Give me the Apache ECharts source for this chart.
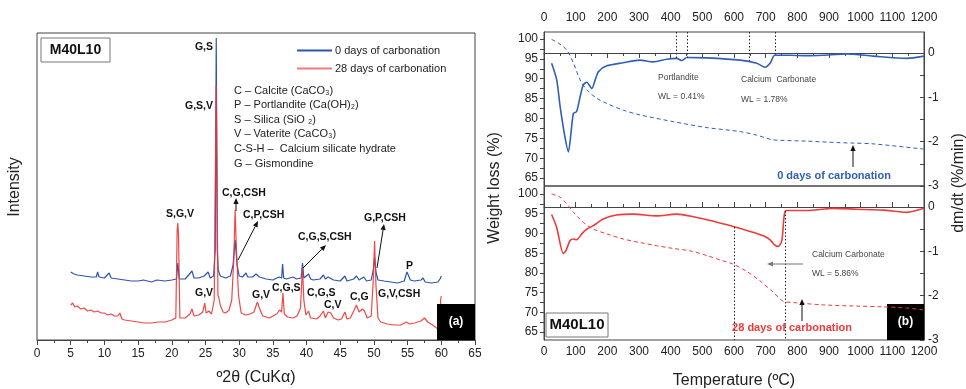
<!DOCTYPE html>
<html><head><meta charset="utf-8">
<script src="https://cdn.jsdelivr.net/npm/echarts@6/dist/echarts.min.js"></script>
<style>html,body{margin:0;padding:0;background:#fff}#c{width:966px;height:389px}</style>
</head><body><div id="c"></div>
<script>
// ---------- DATA ----------
// XRD (2θ, intensity a.u.)
const xrd0days = [[5.0,680],[5.5,660],[6.0,650],[7.0,640],[8.0,630],[8.8,630],[9.0,680],[9.2,630],[10.0,620],[10.7,670],[11.0,620],[12.0,610],[13.0,600],[14.0,590],[15.0,590],[15.8,600],[16.0,580],[17.0,580],[17.8,600],[18.0,580],[19.0,590],[20.0,600],[20.7,610],[20.9,770],[21.1,610],[22.0,610],[23.0,690],[23.3,620],[24.0,620],[24.8,640],[25.0,620],[25.4,680],[25.7,620],[26.2,640],[26.45,900],[26.6,3020],[26.75,900],[26.9,700],[27.2,640],[28.0,620],[28.7,640],[29.1,750],[29.4,1000],[29.7,750],[30.0,640],[30.5,630],[31.0,670],[31.3,630],[32.0,630],[32.5,660],[33.0,630],[34.0,610],[35.0,600],[35.9,630],[36.3,620],[36.45,760],[36.6,620],[37.0,610],[38.0,630],[38.5,610],[39.2,620],[39.4,770],[39.6,620],[40.3,660],[40.6,610],[41.0,600],[42.0,610],[42.5,650],[42.8,610],[43.2,630],[44.0,600],[45.0,590],[45.7,640],[46.0,590],[47.0,610],[47.4,640],[47.8,600],[48.5,630],[48.9,590],[49.6,600],[49.9,700],[50.1,820],[50.3,680],[50.6,600],[51.5,590],[52.5,580],[53.5,570],[54.5,590],[54.9,680],[55.1,650],[55.4,600],[56.0,590],[57.0,600],[57.3,620],[57.6,580],[58.5,570],[59.5,580],[59.8,610],[60.0,640]];
const xrd28days = [[5.0,350],[5.3,370],[5.6,330],[6.0,340],[6.5,310],[7.0,320],[7.5,290],[8.0,300],[8.5,280],[9.0,290],[9.5,270],[10.0,270],[10.5,250],[11.0,260],[11.5,240],[12.0,240],[12.3,270],[12.6,210],[13.0,200],[14.0,190],[15.0,180],[16.0,170],[17.0,170],[18.0,180],[19.0,180],[20.0,200],[20.6,220],[20.8,1100],[20.9,1170],[21.0,1050],[21.2,220],[22.0,220],[22.7,260],[23.0,310],[23.3,240],[24.0,250],[24.6,280],[24.9,370],[25.1,270],[25.5,290],[25.9,260],[26.3,400],[26.5,1900],[26.6,2550],[26.7,1800],[26.85,450],[27.0,420],[27.2,350],[27.6,280],[28.0,270],[28.5,300],[28.9,400],[29.2,800],[29.4,1300],[29.6,900],[29.9,450],[30.3,270],[31.0,250],[31.6,260],[32.2,280],[32.7,380],[33.0,320],[33.5,240],[34.0,230],[34.5,220],[35.0,240],[35.6,260],[36.0,300],[36.3,280],[36.5,470],[36.7,260],[37.2,230],[38.0,220],[38.6,240],[39.1,320],[39.4,720],[39.6,400],[39.9,250],[40.3,290],[40.6,220],[41.5,210],[42.0,240],[42.5,290],[42.8,220],[43.2,280],[43.6,270],[44.0,220],[44.7,200],[45.2,210],[45.7,280],[46.0,210],[46.5,220],[47.0,290],[47.4,350],[47.8,280],[48.3,310],[48.6,290],[49.0,220],[49.6,240],[49.9,600],[50.1,990],[50.3,550],[50.6,220],[51.0,180],[52.0,160],[53.0,150],[54.0,150],[54.8,180],[55.3,160],[56.0,170],[57.0,190],[57.5,220],[58.0,180],[58.7,150],[59.3,120],[59.8,100],[59.9,400],[60.0,440]];
// TGA weight (%) and DTG (%/min) vs temperature (°C)
const tgaWeight0 = [[24,99.9],[45,99.0],[72,97.2],[93,93.9],[114,89.7],[135,87.2],[166,85.1],[198,83.8],[250,82.1],[303,80.9],[408,79.2],[514,77.7],[619,76.7],[672,75.8],[700,75.1],[724,74.6],[829,74.3],[935,73.9],[977,73.8],[1040,73.6],[1187,72.4],[1200,72.3]];
const tgaDtg0 = [[24,-0.23],[40,-0.6],[51,-1.21],[65,-1.85],[77,-2.23],[86,-1.75],[93,-1.36],[103,-1.32],[114,-0.99],[124,-0.72],[135,-0.66],[151,-0.80],[162,-0.6],[172,-0.42],[198,-0.29],[250,-0.22],[303,-0.16],[345,-0.20],[387,-0.14],[419,-0.12],[435,-0.17],[451,-0.10],[514,-0.11],[619,-0.16],[672,-0.23],[698,-0.32],[714,-0.23],[729,-0.05],[777,-0.05],[829,-0.06],[880,-0.05],[956,-0.02],[1040,-0.07],[1145,-0.12],[1200,-0.07]];
const tgaWeight28 = [[24,100],[51,99.2],[72,97.5],[93,95.4],[124,92.8],[156,91.1],[198,89.9],[250,88.6],[303,87.7],[356,86.9],[408,86.2],[461,85.6],[514,84.4],[556,83.3],[598,82.2],[640,80.4],[682,78.0],[724,75.1],[756,72.8],[787,72.5],[882,71.9],[987,71.6],[1071,71.4],[1145,71.1],[1200,70.6]];
const tgaDtg28 = [[24,-0.17],[40,-0.46],[61,-1.05],[69,-0.99],[82,-0.76],[93,-0.72],[103,-0.74],[119,-0.61],[135,-0.50],[156,-0.42],[187,-0.27],[229,-0.18],[282,-0.16],[356,-0.20],[419,-0.16],[472,-0.22],[535,-0.32],[598,-0.44],[651,-0.55],[693,-0.65],[714,-0.74],[729,-0.86],[740,-0.89],[751,-0.76],[758,-0.23],[764,-0.08],[829,-0.08],[914,-0.03],[987,-0.05],[1071,-0.07],[1145,-0.12],[1200,-0.03]];
// dotted guide lines: [temperature, dtg value where the line meets the curve]
const guides0 = [[419,-0.12],[451,-0.10],[648,-0.18],[729,-0.05]];
const guides28 = [[600,-0.45],[761,-0.09]];
// tick labels
const weightTicks = [65,70,75,80,85,90,95,100];
const weightMinorTicks = [65,67.5,70,72.5,75,77.5,80,82.5,85,87.5,90,92.5,95,97.5,100];
const dtgTicks = [-3,-2,-1,0];
const dtgMinorTicks = [-3,-2.5,-2,-1.5,-1,-0.5,0];
const seriesNames = ['0 days of carbonation','28 days of carbonation'];

// ---------- CHART ----------
const FONT = '"Liberation Sans", Arial, sans-serif';
const BLUE = '#2d54ad', RED = '#ec3434', TBLUE = '#2f5fb8', TRED = '#ee3a3a';
const AX = '#444';
const chart = echarts.init(document.getElementById('c'));

function arrow(x1,y1,x2,y2,color){
  const a = Math.atan2(y2-y1,x2-x1), L=6, W=2.6;
  const bx = x2-L*Math.cos(a), by = y2-L*Math.sin(a);
  const px = -Math.sin(a)*W, py = Math.cos(a)*W;
  return [
    {type:'line', z:100, shape:{x1,y1,x2:bx,y2:by}, style:{stroke:color,lineWidth:1}},
    {type:'polygon', z:100, shape:{points:[[x2,y2],[bx+px,by+py],[bx-px,by-py]]}, style:{fill:color}}
  ];
}
function txt(x,y,text,font,fill,align,extra){
  return Object.assign({type:'text', x, y, z:100, style:{text, font, fill:fill||'#111', align:align||'left', verticalAlign:'middle'}}, extra||{});
}
const B = 'bold 10.5px ' + FONT;
const small = '8.5px ' + FONT;

const graphics = [
  // left panel labels
  {type:'rect', z:100, shape:{x:41,y:38,width:69,height:24}, style:{fill:'#fff',stroke:'#777',lineWidth:1}},
  txt(75.5,50,'M40L10','bold 14px '+FONT,'#111','center'),
  txt(213,47,'G,S',B,'#111','right'),
  txt(213,106,'G,S,V',B,'#111','right'),
  txt(222,193,'C,G,CSH',B),
  txt(166,214,'S,G,V',B),
  txt(243,215,'C,P,CSH',B),
  txt(298,237,'C,G,S,CSH',B),
  txt(364,218,'G,P,CSH',B),
  txt(406,266,'P',B),
  txt(195,293,'G,V',B),
  txt(252,295,'G,V',B),
  txt(272,288,'C,G,S',B),
  txt(307,293,'C,G,S',B),
  txt(324,305,'C,V',B),
  txt(350,297,'C,G',B),
  txt(378,294,'G,V,CSH',B),
  ...arrow(236,211,236,198,'#111'),
  ...arrow(238,260,258,221,'#111'),
  ...arrow(303,268,326,245,'#111'),
  ...arrow(377,268,384,224,'#111'),
  txt(234,91,'C – Calcite (CaCO₃)','11px '+FONT,'#222'),
  txt(234,105,'P – Portlandite (Ca(OH)₂)','11px '+FONT,'#222'),
  txt(234,120,'S – Silica (SiO ₂)','11px '+FONT,'#222'),
  txt(234,134,'V – Vaterite (CaCO₃)','11px '+FONT,'#222'),
  txt(234,149,'C-S-H –  Calcium silicate hydrate','11px '+FONT,'#222'),
  txt(234,164,'G – Gismondine','11px '+FONT,'#222'),
  {type:'rect', z:100, shape:{x:437,y:304,width:38,height:36}, style:{fill:'#000'}},
  txt(456,322,'(a)','bold 12px '+FONT,'#fff','center'),
  txt(15,187,'Intensity','16px '+FONT,'#222','center',{rotation:Math.PI/2}),
  txt(256,378,'º2θ (CuKα)','16px '+FONT,'#222','center'),
  // right panel
  txt(495,188,'Weight loss (%)','16px '+FONT,'#222','center',{rotation:Math.PI/2}),
  txt(959,183,'dm/dt (%/min)','16px '+FONT,'#222','center',{rotation:Math.PI/2}),
  txt(734,381,'Temperature (ºC)','16px '+FONT,'#222','center'),
  txt(658,78,'Portlandite',small,'#444'),
  txt(658,97,'WL = 0.41%',small,'#444'),
  txt(741,80,'Calcium  Carbonate',small,'#444'),
  txt(741,100,'WL = 1.78%',small,'#444'),
  txt(834,176,'0 days of carbonation','bold 11px '+FONT,TBLUE,'center'),
  ...arrow(853,167,853,145,'#111'),
  txt(812,255,'Calcium Carbonate',small,'#444'),
  txt(812,274,'WL = 5.86%',small,'#444'),
  ...arrow(803,264,767,264,'#777'),
  txt(792,328,'28 days of carbonation','bold 11px '+FONT,TRED,'center'),
  ...arrow(802,321,802,299,'#111'),
  {type:'rect', z:100, shape:{x:546,y:313,width:62,height:24}, style:{fill:'#fff',stroke:'#777',lineWidth:1}},
  txt(577,325,'M40L10','bold 15px '+FONT,'#111','center'),
  {type:'rect', z:1, shape:{x:887,y:304,width:37,height:36}, style:{fill:'#000'}},
  txt(905.5,322,'(b)','bold 12px '+FONT,'#fff','center',{z:2})
];

const lab = {fontFamily:FONT, fontSize:12, color:'#222', formatter: v => String(v)};
function guideLines(list, top, isTop){
  return list.map(g => isTop ? [{coord:[g[0],top]},{coord:[g[0],g[1]]}] : [{coord:[g[0],g[1]]},{coord:[g[0],-3]}]);
}
const mlStyle = {silent:true, symbol:['none','none'], label:{show:false}, lineStyle:{type:[1.5,2],color:'#222',width:1}, animation:false};

chart.setOption({
  animation:false,
  backgroundColor:'#fff',
  legend:{data:seriesNames, orient:'vertical', left:292, top:40, icon:'rect', itemWidth:35, itemHeight:2, itemGap:7,
    textStyle:{fontFamily:FONT, fontSize:11, color:'#222', padding:[0,0,0,-2]}},
  grid:[
    {left:37, top:33, width:438, height:307, show:true, borderColor:AX, borderWidth:1},
    {left:544, top:32, width:380, height:154, show:true, borderColor:AX, borderWidth:1},
    {left:544, top:186, width:380, height:154, show:true, borderColor:AX, borderWidth:1}
  ],
  xAxis:[
    {gridIndex:0, type:'value', min:0, max:65, interval:5, position:'bottom',
     axisLine:{lineStyle:{color:AX}}, axisTick:{length:5,lineStyle:{color:AX}},
     minorTick:{show:true, splitNumber:2, length:3, lineStyle:{color:AX}},
     splitLine:{show:false}, axisLabel:Object.assign({margin:8},lab)},
    {gridIndex:1, type:'value', min:0, max:1200, interval:100, position:'top',
     axisLine:{lineStyle:{color:AX}}, axisTick:{inside:true,length:5,lineStyle:{color:AX}},
     minorTick:{show:true, splitNumber:2, length:3, lineStyle:{color:AX}},
     splitLine:{show:false}, axisLabel:Object.assign({margin:8, hideOverlap:false},lab)},
    {gridIndex:2, type:'value', min:0, max:1200, interval:100, position:'bottom',
     axisLine:{lineStyle:{color:AX}}, axisTick:{inside:true,length:5,lineStyle:{color:AX}},
     minorTick:{show:true, splitNumber:2, length:3, lineStyle:{color:AX}},
     splitLine:{show:false}, axisLabel:Object.assign({margin:6, hideOverlap:false},lab)}
  ],
  yAxis:[
    {gridIndex:0, type:'value', min:0, max:3070, axisLine:{show:false}, axisTick:{show:false}, axisLabel:{show:false}, splitLine:{show:false}},
    {gridIndex:1, type:'value', min:63, max:101.76, position:'left',
     axisLine:{show:true,lineStyle:{color:AX}}, axisTick:{show:true,length:4,customValues:weightMinorTicks,lineStyle:{color:AX}},
     axisLabel:Object.assign({margin:6, customValues:weightTicks},lab), splitLine:{show:false}},
    {gridIndex:1, type:'value', min:-3, max:0.474, position:'right',
     axisLine:{show:true,lineStyle:{color:AX}}, axisTick:{show:true,inside:true,length:4,customValues:dtgMinorTicks,lineStyle:{color:AX}},
     axisLabel:Object.assign({margin:4, customValues:dtgTicks},lab), splitLine:{show:false}},
    {gridIndex:2, type:'value', min:63, max:102.03, position:'left',
     axisLine:{show:true,lineStyle:{color:AX}}, axisTick:{show:true,length:4,customValues:weightMinorTicks,lineStyle:{color:AX}},
     axisLabel:Object.assign({margin:6, customValues:weightTicks},lab), splitLine:{show:false}},
    {gridIndex:2, type:'value', min:-3, max:0.474, position:'right',
     axisLine:{show:true,lineStyle:{color:AX}}, axisTick:{show:true,inside:true,length:4,customValues:dtgMinorTicks,lineStyle:{color:AX}},
     axisLabel:Object.assign({margin:4, customValues:dtgTicks},lab), splitLine:{show:false}}
  ],
  series:[
    {name:seriesNames[0], type:'line', xAxisIndex:0, yAxisIndex:0, data:xrd0days, symbol:'none', z:3,
     lineStyle:{width:1.2,color:BLUE}, itemStyle:{color:BLUE}},
    {name:seriesNames[1], type:'line', xAxisIndex:0, yAxisIndex:0, data:xrd28days, symbol:'none', z:4,
     lineStyle:{width:1.2,color:RED,opacity:0.9}, itemStyle:{color:'#f07a7a'}},
    {name:'w0', type:'line', xAxisIndex:1, yAxisIndex:1, data:tgaWeight0, symbol:'none', smooth:0.3, z:3,
     lineStyle:{width:1,color:TBLUE,type:[4,3]}},
    {name:'d0', type:'line', xAxisIndex:1, yAxisIndex:2, data:tgaDtg0, symbol:'none', smooth:0.25, z:3,
     lineStyle:{width:1.6,color:TBLUE},
     markLine:Object.assign({data:guideLines(guides0,0.474,true)},mlStyle)},
    {name:'w28', type:'line', xAxisIndex:2, yAxisIndex:3, data:tgaWeight28, symbol:'none', smooth:0.3, z:3,
     lineStyle:{width:1,color:TRED,type:[4,3]}},
    {name:'d28', type:'line', xAxisIndex:2, yAxisIndex:4, data:tgaDtg28, symbol:'none', smooth:0.25, z:3,
     lineStyle:{width:1.6,color:TRED},
     markLine:Object.assign({data:guideLines(guides28,0,false)},mlStyle)}
  ],
  graphic:graphics
});
</script></body></html>
